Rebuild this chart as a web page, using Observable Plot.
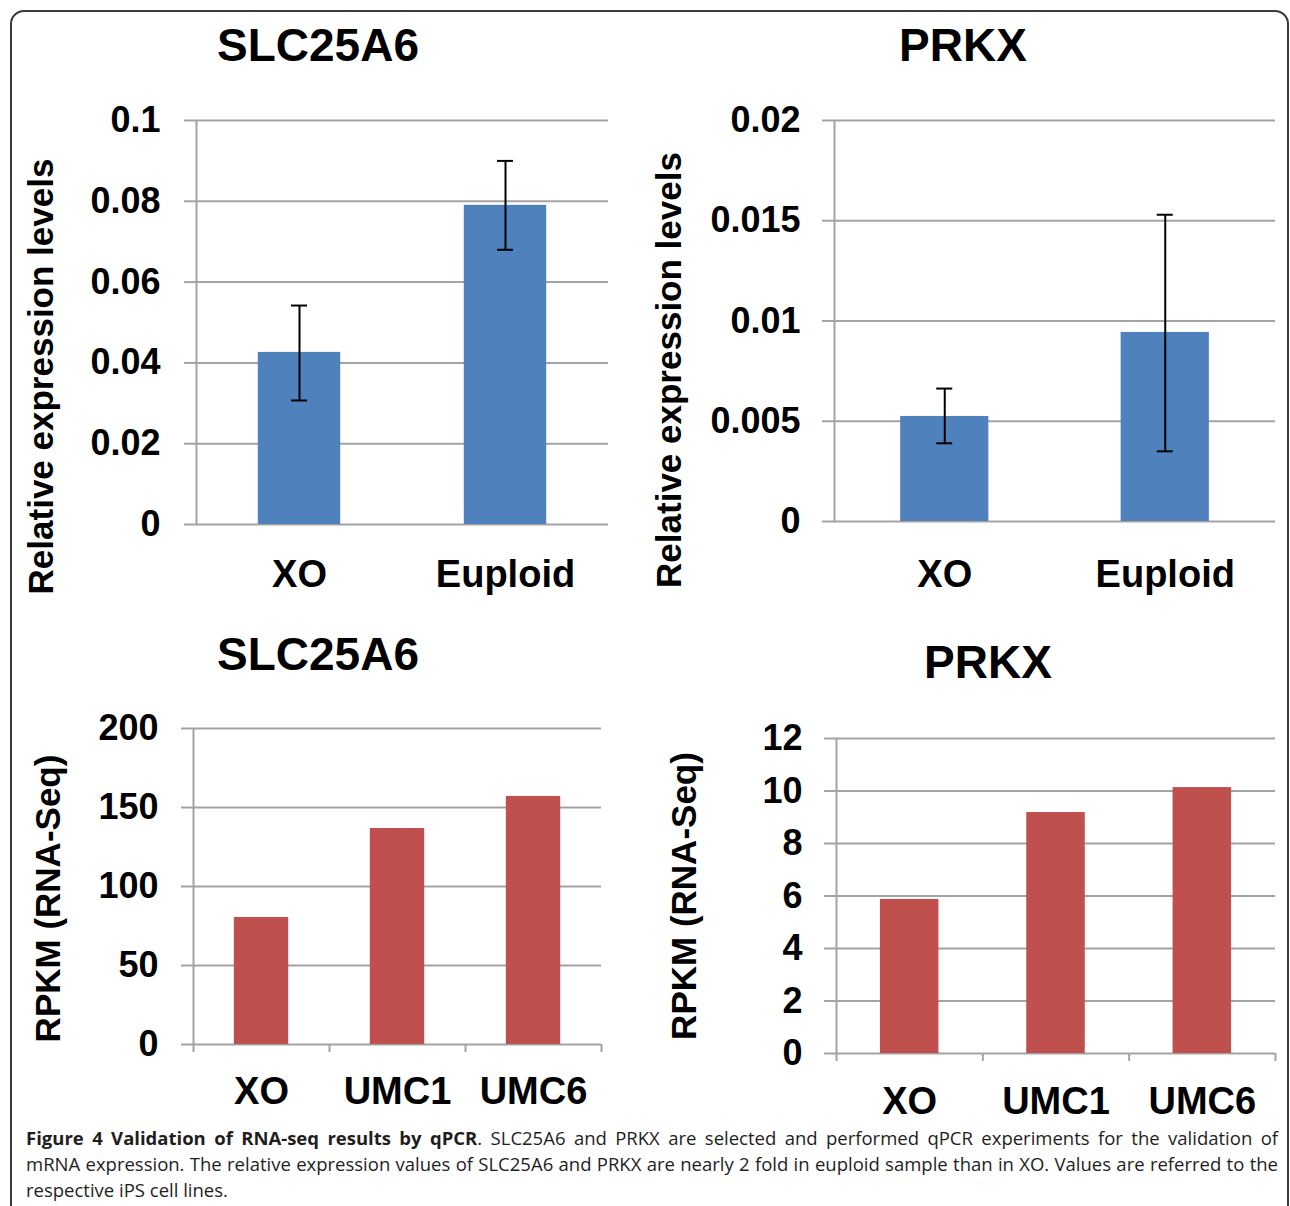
<!DOCTYPE html>
<html><head><meta charset="utf-8">
<script src="https://cdn.jsdelivr.net/npm/d3@7"></script>
<script src="https://cdn.jsdelivr.net/npm/@observablehq/plot@0.6"></script>
<style>
html,body{margin:0;padding:0;background:#fff;}
body{width:1290px;height:1206px;overflow:hidden;position:relative;font-family:"Liberation Sans",Arial,sans-serif;}
#frame{position:absolute;left:10px;top:10px;width:1279px;height:1300px;border:2px solid #3a3a3a;border-radius:14px;box-sizing:border-box;}
.panel{position:absolute;}
.title{position:absolute;width:400px;text-align:center;font-size:46px;line-height:46px;font-weight:bold;color:#000;white-space:nowrap;}
#caption{position:absolute;left:26px;top:1125px;font-family:"Open Sans",sans-serif;font-size:18px;line-height:26px;color:#1e1e1e;}
.cl{height:26px;width:1252px;text-align:justify;text-align-last:justify;}
.cl.last{text-align:left;text-align-last:left;white-space:nowrap;}
</style></head>
<body>
<div id="frame"></div>
<div class="title" style="left:118px;top:22px">SLC25A6</div>
<div class="title" style="left:763px;top:22px">PRKX</div>
<div class="title" style="left:118px;top:631px">SLC25A6</div>
<div class="title" style="left:788px;top:639px">PRKX</div>
<div id="p1" class="panel" style="left:0;top:90px"></div>
<div id="p2" class="panel" style="left:640px;top:90px"></div>
<div id="p3" class="panel" style="left:0;top:700px"></div>
<div id="p4" class="panel" style="left:640px;top:700px"></div>
<div id="caption">
<div class="cl" id="c1"><b>Figure 4 Validation of RNA-seq results by qPCR</b>. SLC25A6 and PRKX are selected and performed qPCR experiments for the validation of</div>
<div class="cl" id="c2">mRNA expression. The relative expression values of SLC25A6 and PRKX are nearly 2 fold in euploid sample than in XO. Values are referred to the</div>
<div class="cl last" id="c3"><span id="c3s">respective iPS cell lines.</span></div>
</div>
<script>
// ---- data ----
const qpcrCategories = ["XO", "Euploid"];
const slcQpcrMean = [0.0426, 0.079];
const slcQpcrLow = [0.0307, 0.068];
const slcQpcrHigh = [0.0542, 0.090];
const slcQpcrTicks = [0, 0.02, 0.04, 0.06, 0.08, 0.1];

const prkxQpcrMean = [0.00524, 0.00943];
const prkxQpcrLow = [0.0039, 0.0035];
const prkxQpcrHigh = [0.00663, 0.0153];
const prkxQpcrTicks = [0, 0.005, 0.01, 0.015, 0.02];

const rnaCategories = ["XO", "UMC1", "UMC6"];
const slcRpkm = [80.4, 136.7, 157];
const slcRpkmTicks = [0, 50, 100, 150, 200];
const prkxRpkm = [5.87, 9.18, 10.13];
const prkxRpkmTicks = [0, 2, 4, 6, 8, 10, 12];

const qpcrLabel = "Relative expression levels";
const rnaLabel = "RPKM (RNA-Seq)";
const blue = "#4f81bd", red = "#c0504d", grid = "#a3a3a3";

function panel(o) {
  const data = o.cats.map((c, i) => ({cat: c, v: o.vals[i], lo: o.lo ? o.lo[i] : null, hi: o.hi ? o.hi[i] : null}));
  const plotW = o.width - o.mL - o.mR;
  const step = plotW / o.cats.length;
  const bw = step * 0.4;
  const marks = [
    Plot.gridY(o.ticks, {stroke: grid, strokeOpacity: 1, strokeWidth: 2}),
    Plot.axisY(o.ticks, {tickSize: 12, tickPadding: o.tickPad, stroke: grid, strokeWidth: 2, fill: "#000",
      fontSize: o.tickFont, label: null, tickFormat: d => d.toString()}),
    Plot.barY(data, {x: "cat", y: "v", fill: o.color}),
    Plot.gridX([o.cats[0]], {stroke: grid, strokeOpacity: 1, strokeWidth: 2, dx: -step / 2})
  ];
  if (o.lo) {
    marks.push(
      Plot.ruleX(data, {x: "cat", y1: "lo", y2: "hi", stroke: "#000", strokeWidth: 2}),
      Plot.tickY(data, {x: "cat", y: "lo", stroke: "#000", strokeWidth: 2, inset: (bw - 16) / 2}),
      Plot.tickY(data, {x: "cat", y: "hi", stroke: "#000", strokeWidth: 2, inset: (bw - 16) / 2})
    );
  }
  if (o.boundary) {
    marks.push(
      Plot.axisX(o.cats, {tickSize: 8, stroke: grid, strokeWidth: 2, fill: "none", dx: -step / 2, label: null, tickFormat: () => ""}),
      Plot.axisX([o.cats[o.cats.length - 1]], {tickSize: 8, stroke: grid, strokeWidth: 2, fill: "none", dx: step / 2, label: null, tickFormat: () => ""})
    );
  }
  marks.push(
    Plot.axisX(o.cats, {tickSize: 0, tickPadding: o.xPad, fontSize: o.xFont, fill: "#000", label: null}),
    Plot.text([o.yLabel], {frameAnchor: "left", textAnchor: "middle", lineAnchor: "middle", rotate: -90,
      dx: o.labelX - o.mL, dy: o.labelDy, fontSize: o.labelFont, text: d => d, fill: "#000"})
  );
  return Plot.plot({
    width: o.width, height: o.height,
    marginLeft: o.mL, marginRight: o.mR, marginTop: o.mT, marginBottom: o.mB,
    x: {type: "band", domain: o.cats, paddingInner: 0.6, paddingOuter: 0.3, round: false, label: null},
    y: {domain: o.yDomain, label: null},
    style: {fontFamily: "'Liberation Sans', Arial, sans-serif", fontWeight: "bold", background: "transparent", overflow: "visible"},
    marks
  });
}

document.getElementById("p1").append(panel({
  cats: qpcrCategories, vals: slcQpcrMean, lo: slcQpcrLow, hi: slcQpcrHigh, ticks: slcQpcrTicks, yDomain: [0, 0.1],
  color: blue, width: 640, height: 520, mL: 196, mR: 32, mT: 30, mB: 86,
  yLabel: qpcrLabel, labelX: 41, labelDy: 54, labelFont: 35, tickFont: 36, tickPad: 24, xFont: 38, xPad: 36
}));
document.getElementById("p2").append(panel({
  cats: qpcrCategories, vals: prkxQpcrMean, lo: prkxQpcrLow, hi: prkxQpcrHigh, ticks: prkxQpcrTicks, yDomain: [0, 0.02],
  color: blue, width: 650, height: 520, mL: 194, mR: 15, mT: 30, mB: 89,
  yLabel: qpcrLabel, labelX: 29, labelDy: 49, labelFont: 35, tickFont: 36, tickPad: 22, xFont: 38, xPad: 39
}));
document.getElementById("p3").append(panel({
  cats: rnaCategories, vals: slcRpkm, ticks: slcRpkmTicks, yDomain: [0, 200],
  color: red, width: 640, height: 420, mL: 193, mR: 39, mT: 28, mB: 76, boundary: true,
  yLabel: rnaLabel, labelX: 48, labelDy: 12, labelFont: 35, tickFont: 36, tickPad: 23, xFont: 38, xPad: 33
}));
document.getElementById("p4").append(panel({
  cats: rnaCategories, vals: prkxRpkm, ticks: prkxRpkmTicks, yDomain: [0, 12],
  color: red, width: 650, height: 420, mL: 196, mR: 15, mT: 38, mB: 67, boundary: true,
  yLabel: rnaLabel, labelX: 44, labelDy: 0, labelFont: 35, tickFont: 36, tickPad: 22, xFont: 38, xPad: 34
}));

// caption: match reference text width by adjusting font size
const w3 = document.getElementById("c3s").getBoundingClientRect().width;
const fs = Math.max(16, Math.min(19, 18 * 202 / w3));
document.getElementById("caption").style.fontSize = fs + "px";
</script>
</body></html>
